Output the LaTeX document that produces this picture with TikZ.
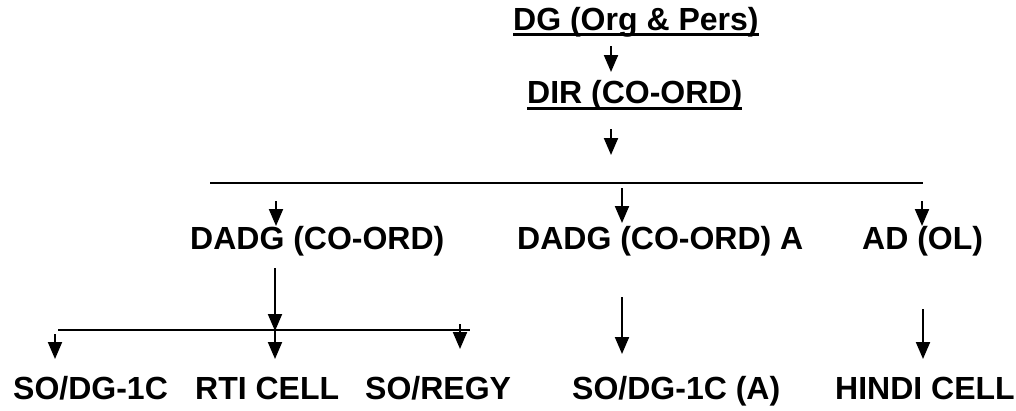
\documentclass[tikz,border=0pt]{standalone}
\usepackage{fontspec}
\setmainfont{Liberation Sans}
\usetikzlibrary{arrows.meta}
\tikzset{
  lbl/.style={inner sep=0pt, anchor=base west, font=\fontsize{32}{38}\selectfont\bfseries},
  arr/.style={line width=2pt, -{Triangle[length=17pt,width=14pt]}},
  hline/.style={line width=2.4pt},
  uline/.style={line width=2.8pt}
}
\begin{document}
\begin{tikzpicture}[x=1pt,y=-1pt]
\useasboundingbox (0,0) rectangle (1016,410);
% texts
\node[lbl] (t1) at (513,30) {DG (Org \& Pers)};
\node[lbl] (t2) at (527,103) {DIR (CO-ORD)};
\node[lbl] (t3) at (190,249) {DADG (CO-ORD)};
\node[lbl] (t4) at (517,249) {DADG (CO-ORD) A};
\node[lbl] (t5) at (862,249) {AD (OL)};
\node[lbl] (t6) at (13,399) {SO/DG-1C};
\node[lbl] (t7) at (195,399) {RTI CELL};
\node[lbl] (t8) at (365,399) {SO/REGY};
\node[lbl] (t9) at (572,399) {SO/DG-1C (A)};
\node[lbl] (t10) at (835,399) {HINDI CELL};
% underlines
\draw[uline] ([yshift=-4.5pt]t1.base west) -- ([yshift=-4.5pt]t1.base east);
\draw[uline] ([yshift=-5.5pt]t2.base west) -- ([yshift=-5.5pt]t2.base east);
% horizontal bars
\coordinate (l1a) at (210,183); \coordinate (l1b) at (923,183);
\coordinate (l2a) at (58,330);  \coordinate (l2b) at (470,330);
\draw[hline] (l1a) -- (l1b);
\draw[hline] (l2a) -- (l2b);
% arrows
\coordinate (a1s) at (611,46);  \coordinate (a1e) at (611,72);
\coordinate (a2s) at (611,129); \coordinate (a2e) at (611,155);
\coordinate (a3s) at (276,201); \coordinate (a3e) at (276,226);
\coordinate (a4s) at (622,188); \coordinate (a4e) at (622,223);
\coordinate (a5s) at (922,201); \coordinate (a5e) at (922,226);
\coordinate (a6s) at (275,268); \coordinate (a6e) at (275,331);
\coordinate (a7s) at (55,334);  \coordinate (a7e) at (55,359);
\coordinate (a8s) at (275,330); \coordinate (a8e) at (275,359);
\coordinate (a9s) at (460,324); \coordinate (a9e) at (460,349);
\coordinate (a10s) at (622,297); \coordinate (a10e) at (622,354);
\coordinate (a11s) at (923,309); \coordinate (a11e) at (923,359);
\foreach \i in {1,...,11} \draw[arr] (a\i s) -- (a\i e);
\end{tikzpicture}
\end{document}
